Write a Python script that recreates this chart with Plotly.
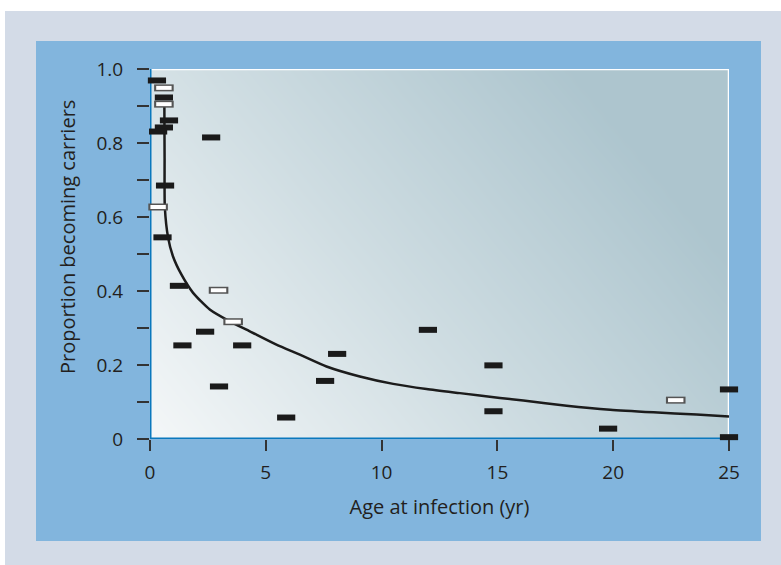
import numpy as np
import plotly.graph_objects as go

# ---- data ----
filled_age = [0.30, 0.60, 0.82, 0.60, 0.35, 2.64, 0.65, 0.54, 1.25, 2.38, 1.40, 3.98,
              2.98, 5.88, 7.56, 8.08, 12.00, 14.83, 14.83, 19.78, 25.0, 25.0]
filled_prop = [0.969, 0.923, 0.861, 0.842, 0.831, 0.815, 0.685, 0.545, 0.414, 0.290, 0.253, 0.253,
               0.142, 0.058, 0.157, 0.230, 0.295, 0.199, 0.075, 0.028, 0.134, 0.005]

open_age = [0.60, 0.60, 0.35, 2.96, 3.59, 22.70]
open_prop = [0.949, 0.905, 0.627, 0.402, 0.317, 0.105]

curve_age = [0.62, 0.63, 0.64, 0.78, 0.99, 1.36, 1.86, 2.58, 3.44, 4.31, 5.46, 6.47,
             7.62, 9.06, 10.5, 11.94, 13.38, 15.11, 16.12, 17.99, 19.87, 21.74, 23.6, 25.0]
curve_prop = [0.905, 0.76, 0.627, 0.545, 0.494, 0.444, 0.395, 0.35, 0.318, 0.291, 0.255, 0.228,
              0.196, 0.169, 0.149, 0.135, 0.124, 0.111, 0.104, 0.09, 0.079, 0.072, 0.066, 0.061]

x_ticks = [0, 5, 10, 15, 20, 25]
y_ticks = [0, 0.1, 0.2, 0.3, 0.4, 0.5, 0.6, 0.7, 0.8, 0.9, 1.0]
y_ticktext = ["0", "", "0.2", "", "0.4", "", "0.6", "", "0.8", "", "1.0"]

x_title = "Age at infection (yr)"
y_title = "Proportion becoming carriers"

# ---- layout geometry (pixels) ----
W, H = 781, 565
L, R, T, B = 150, 52, 69, 126
PW, PH = W - L - R, H - T - B


def px_x(p):
    return (p - L) / PW


def px_y(p):
    return (H - B - p) / PH


FONT = "Open Sans"
TXT = "#231f20"

fig = go.Figure()

# background gradient of the plot area
gx = np.linspace(0, 25, 40)
gy = np.linspace(0, 1, 30)
U, V = np.meshgrid(gx / 25.0, gy)
Z = np.clip(0.8 * U + 0.42 * V, 0, 1)
fig.add_trace(go.Heatmap(
    x=gx, y=gy, z=Z, zsmooth="best", showscale=False, hoverinfo="skip",
    zmin=0, zmax=1,
    colorscale=[[0, "#f4f7f8"], [0.5, "#cfdde2"], [1, "#adc5ce"]],
))

# white top/right border of plot area
fig.add_trace(go.Scatter(x=[0, 25, 25], y=[1, 1, 0], mode="lines",
                         line=dict(color="white", width=2.5), hoverinfo="skip",
                         showlegend=False, cliponaxis=False))
# blue left/bottom axis lines
fig.add_trace(go.Scatter(x=[0, 0, 25], y=[1, 0, 0], mode="lines",
                         line=dict(color="#0a78bd", width=3), hoverinfo="skip",
                         showlegend=False, cliponaxis=False))

# fitted curve
fig.add_trace(go.Scatter(x=curve_age, y=curve_prop, mode="lines",
                         line=dict(color="#1c1c1c", width=2.5, shape="spline", smoothing=0.6),
                         showlegend=False, cliponaxis=False))

# open markers (grey outline, white fill)
fig.add_trace(go.Scatter(x=open_age, y=open_prop, mode="markers", showlegend=False, cliponaxis=False,
                         marker=dict(symbol="line-ew", size=14, line=dict(color="#555555", width=7))))
fig.add_trace(go.Scatter(x=open_age, y=open_prop, mode="markers", showlegend=False, cliponaxis=False,
                         marker=dict(symbol="line-ew", size=11, line=dict(color="white", width=4))))

# filled markers
fig.add_trace(go.Scatter(x=filled_age, y=filled_prop, mode="markers", showlegend=False, cliponaxis=False,
                         marker=dict(symbol="line-ew", size=13, line=dict(color="#1a1a1a", width=6))))

shapes = [
    # white strip at top & left of page
    dict(type="rect", xref="paper", yref="paper", x0=px_x(0), x1=px_x(W), y0=px_y(11), y1=px_y(0),
         fillcolor="white", line=dict(width=0), layer="below"),
    dict(type="rect", xref="paper", yref="paper", x0=px_x(0), x1=px_x(5), y0=px_y(H), y1=px_y(0),
         fillcolor="white", line=dict(width=0), layer="below"),
    # blue panel
    dict(type="rect", xref="paper", yref="paper", x0=px_x(36), x1=px_x(761), y0=px_y(541), y1=px_y(41),
         fillcolor="#82b5dd", line=dict(width=0), layer="below"),
]

annotations = [
    dict(text=y_title, xref="paper", yref="paper", x=px_x(67), y=px_y(237),
         xanchor="center", yanchor="middle", textangle=-90, showarrow=False,
         font=dict(size=20, family=FONT, color=TXT)),
]

fig.update_layout(
    width=W, height=H,
    margin=dict(l=L, r=R, t=T, b=B, pad=0),
    paper_bgcolor="#d3dbe7",
    plot_bgcolor="rgba(0,0,0,0)",
    shapes=shapes,
    annotations=annotations,
    showlegend=False,
    font=dict(family=FONT, size=19, color=TXT),
    xaxis=dict(
        range=[0, 25], tickvals=x_ticks, ticktext=[str(v) for v in x_ticks],
        ticks="outside", ticklen=11, tickwidth=1.5, tickcolor="#333333",
        showgrid=False, zeroline=False, showline=False,
        ticklabelstandoff=5,
        title=dict(text=x_title, font=dict(size=20, family=FONT, color=TXT), standoff=16),
    ),
    yaxis=dict(
        range=[0, 1], tickvals=y_ticks, ticktext=y_ticktext,
        ticks="outside", ticklen=12, tickwidth=1.5, tickcolor="#333333",
        showgrid=False, zeroline=False, showline=False,
        ticklabelstandoff=10,
    ),
)

fig.write_html("out.html")
